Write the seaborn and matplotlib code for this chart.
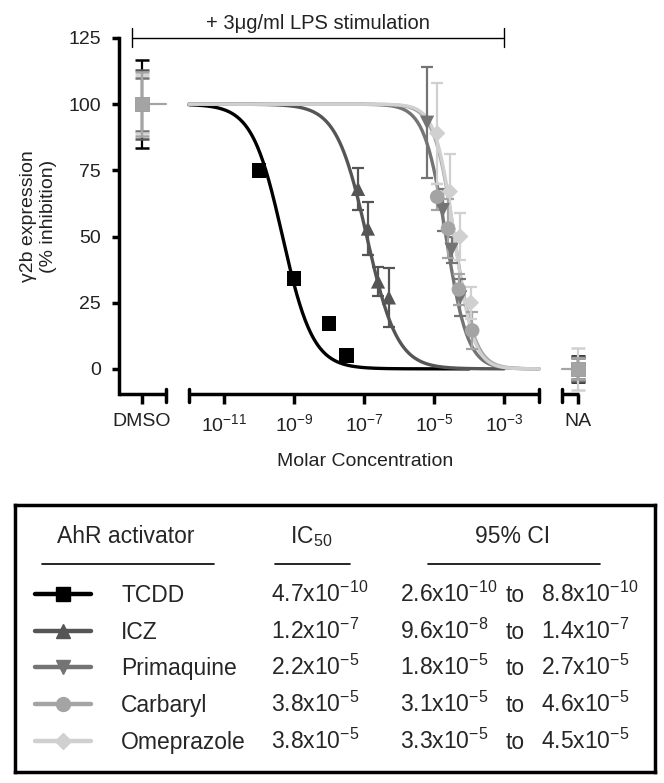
import numpy as np
import pandas as pd
import seaborn as sns
import matplotlib.pyplot as plt
from matplotlib.ticker import NullLocator

# series / table data
compounds = ['TCDD', 'ICZ', 'Primaquine', 'Carbaryl', 'Omeprazole']
colors = ['#000000', '#555555', '#747474', '#a4a4a4', '#d0d0d0']
markers = ['s', '^', 'v', 'o', 'D']
marker_area = [115, 105, 105, 110, 70]
ic50 = [4.7e-10, 1.2e-7, 2.2e-5, 3.8e-5, 3.8e-5]
ci_low = [2.6e-10, 9.6e-8, 1.8e-5, 3.1e-5, 3.3e-5]
ci_high = [8.8e-10, 1.4e-7, 2.7e-5, 4.6e-5, 4.5e-5]
hill = [1.0, 1.0, 1.4, 1.5, 1.6]
curve_end = [-4, -3, -2, -2, -2]   # log10 M where the fitted curve stops

# measured points (log10 molar, % inhibition, sem)
logc = {
    'TCDD': [-10.0, -9.0, -8.0, -7.5],
    'ICZ': [-7.17, -6.89, -6.6, -6.29],
    'Primaquine': [-5.2, -4.75, -4.5, -4.25],
    'Carbaryl': [-4.91, -4.6, -4.29, -3.91],
    'Omeprazole': [-4.91, -4.55, -4.25, -3.95],
}
resp = {
    'TCDD': [75, 34, 17, 5],
    'ICZ': [68, 53, 33, 27],
    'Primaquine': [93, 60, 45, 27],
    'Carbaryl': [65, 53, 30, 14.5],
    'Omeprazole': [89, 67, 50, 25],
}
sem = {
    'TCDD': [0, 0, 0, 0],
    'ICZ': [8, 10, 5.5, 11],
    'Primaquine': [21, 8, 5, 7],
    'Carbaryl': [5, 11, 6, 7],
    'Omeprazole': [19, 14, 9, 6],
}
dmso_mean = [100, 100, 100, 100, 100]
dmso_sem = [16.5, 13, 10, 12, 11]
na_mean = [0, 0, 0, 0, 0]
na_sem = [5, 4, 4.5, 4, 8]

xtick_labels = ['DMSO', '10$^{\\mathrm{-11}}$', '10$^{\\mathrm{-9}}$', '10$^{\\mathrm{-7}}$',
                '10$^{\\mathrm{-5}}$', '10$^{\\mathrm{-3}}$', 'NA']

DMSO_X = 10 ** -13.34
NA_X = 10 ** -0.88
YMIN = -9.5

sns.set_theme(style='white')
plt.rcParams['font.family'] = ['Liberation Sans', 'DejaVu Sans']
plt.rcParams['mathtext.fontset'] = 'custom'
plt.rcParams['mathtext.rm'] = 'Liberation Sans'
plt.rcParams['mathtext.it'] = 'Liberation Sans:italic'
plt.rcParams['mathtext.bf'] = 'Liberation Sans:bold'

palette = dict(zip(compounds, colors))

fig = plt.figure(figsize=(6.64, 7.83), dpi=100)
ax = fig.add_axes([119 / 664, 1 - 394 / 783, 461 / 664, 356 / 783])

# fitted curves
rows = []
for c, ic, h, e in zip(compounds, ic50, hill, curve_end):
    xs = np.logspace(-12, e, 300)
    ys = 100 / (1 + (xs / ic) ** h)
    rows.append(pd.DataFrame({'conc': xs, 'resp': ys, 'compound': c}))
curves = pd.concat(rows)
sns.lineplot(data=curves, x='conc', y='resp', hue='compound', palette=palette,
             hue_order=compounds, estimator=None, lw=2.4, legend=False, ax=ax)

# data points
pts = pd.concat([pd.DataFrame({'conc': 10 ** np.array(logc[c]), 'resp': resp[c],
                               'err': sem[c], 'compound': c}) for c in compounds])
for c, col in zip(compounds, colors):
    d = pts[pts['compound'] == c]
    ax.errorbar(d['conc'], d['resp'], yerr=d['err'], fmt='none', ecolor=col,
                elinewidth=1.6, capsize=4, capthick=1.6, zorder=3)
sns.scatterplot(data=pts, x='conc', y='resp', hue='compound', style='compound',
                size='compound', palette=palette, markers=dict(zip(compounds, markers)),
                sizes=dict(zip(compounds, marker_area)), hue_order=compounds,
                edgecolor='none', legend=False, ax=ax, zorder=4)

# DMSO and NA controls
draw_order = [0, 1, 2, 4, 3]
for i in draw_order:
    ax.errorbar([DMSO_X], [dmso_mean[i]], yerr=[dmso_sem[i]], fmt='s', color=colors[i],
                ms=10, mec='none', elinewidth=1.6, capsize=5, capthick=1.8, clip_on=False, zorder=5)
    ax.errorbar([NA_X], [na_mean[i]], yerr=[na_sem[i]], fmt='s', color=colors[i],
                ms=10, mec='none', elinewidth=1.6, capsize=5, capthick=1.8, clip_on=False, zorder=5)
ax.plot([DMSO_X, 10 ** -12.66], [100, 100], color='#a4a4a4', lw=1.6, zorder=2)
ax.plot([10 ** -1.34, NA_X], [0, 0], color='#a4a4a4', lw=1.6, zorder=2)

ax.set_xscale('log')
ax.set_xlim(10 ** -14.0, 10 ** -0.83)
ax.set_ylim(YMIN, 125)
ax.set_yticks([0, 25, 50, 75, 100, 125])
ax.set_xticks([DMSO_X, 1e-11, 1e-9, 1e-7, 1e-5, 1e-3, NA_X])
ax.set_xticklabels(xtick_labels)
ax.xaxis.set_minor_locator(NullLocator())
ax.tick_params(axis='both', direction='out', length=7, width=2.5, colors='black',
               labelsize=14, labelcolor='#222222', bottom=True, left=True)
ax.tick_params(axis='y', length=5, pad=8)
ax.tick_params(axis='x', pad=7)

for s in ['top', 'right', 'bottom']:
    ax.spines[s].set_visible(False)
ax.spines['left'].set_linewidth(2.5)
ax.spines['left'].set_color('black')

# broken x axis
for a, b in [(10 ** -14.0, 10 ** -12.66), (1e-12, 1e-2), (10 ** -1.34, 10 ** -0.85)]:
    ax.plot([a, b], [YMIN, YMIN], color='black', lw=2.5, clip_on=False, solid_capstyle='butt')
for x in [10 ** -12.66, 1e-12, 1e-2, 10 ** -1.34]:
    ax.plot([x, x], [YMIN - 3.2, YMIN + 1.8], color='black', lw=2.5, clip_on=False)

# stimulation bracket
bl, br = 10 ** -13.63, 1e-3
ax.plot([bl, br], [125, 125], color='black', lw=1.0, clip_on=False)
for x in [bl, br]:
    ax.plot([x, x], [121.6, 128.8], color='black', lw=1.0, clip_on=False)
ax.text(10 ** -8.33, 130.3, '+ 3\u03bcg/ml LPS stimulation', ha='center', va='center',
        fontsize=14.5, color='#222222', clip_on=False)

ax.set_xlabel('Molar Concentration', fontsize=14, color='#222222')
ax.xaxis.set_label_coords(0.534, -0.165)
ax.set_ylabel('\u03b32b expression\n(% inhibition)', fontsize=14, color='#222222')
ax.yaxis.set_label_coords(-0.135, 0.5)

# results table
tb = fig.add_axes([15 / 664, 1 - 772 / 783, 640 / 664, 267 / 783])
tb.set_xlim(0, 640)
tb.set_ylim(267, 0)
tb.set_xticks([])
tb.set_yticks([])
for s in tb.spines.values():
    s.set_visible(True)
    s.set_linewidth(2.5)
    s.set_color('black')

hdr_base = 38
tb.text(111, hdr_base, 'AhR activator', ha='center', va='baseline', fontsize=16.5)
tb.text(296, hdr_base, 'IC$_{\\mathrm{50}}$', ha='center', va='baseline', fontsize=16.5)
tb.text(498, hdr_base, '95% CI', ha='center', va='baseline', fontsize=16.5)
for a, b in [(27, 199), (260, 335), (413, 585)]:
    tb.plot([a, b], [59, 59], color='black', lw=1.2)


def sci(v):
    e = int(np.floor(np.log10(v)))
    m = v / 10 ** e
    return '%.1fx10$^{\\mathrm{%d}}$' % (m, e)


row_y = [89, 126, 162, 199, 236]
for i, c in enumerate(compounds):
    y = row_y[i]
    tb.plot([20, 48, 76], [y, y, y], color=colors[i], lw=3.2, marker=markers[i],
            markevery=[1], ms=10 if markers[i] != 'D' else 8, mec=colors[i])
    base = y + 8
    tb.text(106, base, c, ha='left', va='baseline', fontsize=16.5)
    tb.text(256, base, sci(ic50[i]), ha='left', va='baseline', fontsize=16.5)
    tb.text(385, base, sci(ci_low[i]), ha='left', va='baseline', fontsize=16.5)
    tb.text(491, base, 'to', ha='left', va='baseline', fontsize=16.5)
    tb.text(526, base, sci(ci_high[i]), ha='left', va='baseline', fontsize=16.5)

fig.savefig('out.png', dpi=100)
